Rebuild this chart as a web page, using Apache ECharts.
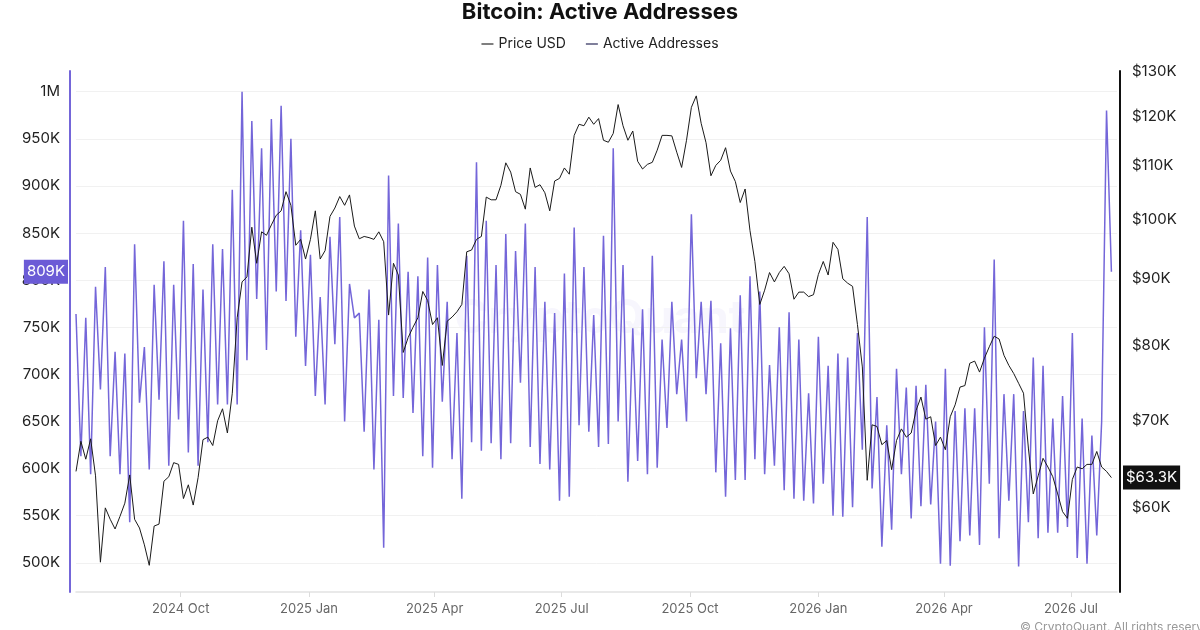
<!DOCTYPE html>
<html>
<head>
<meta charset="utf-8">
<title>Bitcoin: Active Addresses</title>
<script src="https://cdn.jsdelivr.net/npm/echarts@6/dist/echarts.min.js"></script>
<style>
  html, body { margin: 0; padding: 0; background: #fff; }
  #chart { width: 1200px; height: 630px; }
</style>
</head>
<body>
<div id="chart"></div>
<script>
// 采样：每 3.5 天一个点（周四 / 周日交替），从 2024-07-18 开始
const startDate = new Date(2024, 6, 18).getTime();
const DAY = 24 * 3600 * 1000;
const stepMs = 3.5 * DAY;

// Active Addresses（单位 K）
const addresses = [
  764, 613, 760, 594, 793, 684, 814, 613, 724, 594, 722, 543, 838, 670, 729, 599, 795, 673,
  820, 603, 795, 652, 863, 617, 817, 603, 790, 628, 838, 668, 833, 668, 896, 668, 1000, 715,
  969, 780, 940, 726, 971, 788, 985, 778, 950, 740, 853, 709, 827, 677, 782, 668, 846, 732,
  867, 650, 796, 760, 765, 639, 790, 599, 758, 516, 911, 677, 860, 675, 809, 659, 804, 613,
  824, 601, 816, 671, 777, 610, 744, 568, 826, 628, 925, 619, 863, 627, 816, 610, 849, 627,
  831, 691, 860, 623, 814, 605, 777, 599, 765, 566, 807, 570, 856, 646, 814, 639, 763, 623,
  847, 626, 940, 650, 816, 586, 749, 608, 769, 594, 826, 601, 737, 643, 777, 679, 737, 650,
  870, 696, 777, 679, 778, 596, 733, 570, 749, 588, 784, 588, 804, 610, 788, 594, 710, 603,
  750, 577, 766, 568, 737, 566, 680, 563, 740, 584, 709, 550, 722, 549, 718, 559, 744, 620,
  867, 579, 676, 517, 646, 535, 706, 594, 686, 547, 688, 560, 689, 562, 650, 499, 706,
  497, 661, 523, 664, 529, 664, 519, 750, 584, 822, 526, 679, 566, 679, 496, 661, 543,
  718, 526, 709, 532, 653, 532, 677, 538, 744, 505, 653, 499, 635, 529, 650, 980, 809
];

// Price USD（单位 K）
const priceUsd = [
  64.0, 67.5, 65.4, 67.8, 63.5, 54.5, 60.0, 58.8, 57.8, 59.1, 60.5, 63.6, 58.8, 57.9, 56.2, 54.2, 58.1, 58.3,
  62.9, 63.4, 65.0, 64.8, 61.0, 62.5, 60.3, 63.3, 67.7, 68.0, 67.0, 70.0, 71.5, 68.5, 73.5, 84.0, 89.5, 90.3,
  98.6, 92.5, 97.8, 97.2, 99.0, 100.7, 101.5, 105.0, 102.5, 95.5, 96.5, 93.2, 96.5, 101.5, 93.2, 94.6, 100.5, 102.0,
  104.1, 102.5, 104.4, 98.8, 96.6, 97.0, 96.8, 96.5, 97.8, 96.1, 84.4, 92.5, 90.6, 79.0, 81.1, 82.6, 84.0, 88.0,
  86.6, 83.0, 84.0, 77.2, 83.5, 84.1, 84.9, 86.0, 94.4, 94.7, 96.5, 97.0, 104.0, 103.5, 103.5, 106.2, 110.5, 108.7,
  105.0, 104.5, 101.8, 109.5, 105.8, 106.3, 104.8, 101.5, 107.0, 107.5, 109.5, 108.3, 116.0, 118.3, 118.0, 119.8, 118.3, 119.5,
  115.0, 114.6, 116.4, 122.5, 118.0, 115.0, 116.9, 110.8, 109.3, 110.2, 110.6, 113.0, 116.0, 116.0, 115.9, 112.6, 109.6, 115.0,
  121.9, 124.4, 118.5, 114.5, 108.0, 110.0, 111.0, 113.5, 108.9, 106.9, 103.0, 105.5, 98.0, 92.8, 86.0, 88.2, 91.0, 89.5,
  91.0, 92.0, 90.8, 86.8, 87.9, 87.9, 87.2, 87.5, 90.7, 92.8, 90.6, 96.0, 94.8, 90.0, 89.3, 88.8, 83.0, 77.0,
  63.0, 69.5, 69.3, 67.1, 67.6, 64.2, 67.6, 69.0, 68.0, 68.5, 71.3, 73.0, 70.2, 70.5, 67.0, 68.0, 66.5,
  70.5, 72.0, 74.3, 74.5, 77.5, 77.8, 76.3, 78.2, 79.8, 81.3, 80.9, 78.6, 77.2, 76.1, 74.8, 73.5, 66.7,
  61.5, 63.5, 65.5, 64.5, 63.4, 61.5, 59.6, 58.9, 63.1, 64.5, 64.3, 64.8, 64.8, 66.3, 64.5, 64.0, 63.3
];

// 坐标轴刻度
const xTickDates = ['2024-10-01', '2025-01-01', '2025-04-01', '2025-07-01',
                    '2025-10-01', '2026-01-01', '2026-04-01', '2026-07-01'];
const leftTicks = [500, 550, 600, 650, 700, 750, 800, 850, 900, 950, 1000];
const rightTicks = [60, 70, 80, 90, 100, 110, 120, 130];

const monthNames = ['Jan', 'Feb', 'Mar', 'Apr', 'May', 'Jun', 'Jul', 'Aug', 'Sep', 'Oct', 'Nov', 'Dec'];
const xTicks = xTickDates.map(s => new Date(s + 'T00:00:00').getTime());
const toPoints = arr => arr.map((v, i) => [startDate + i * stepMs, v]);

const lastAddr = addresses[addresses.length - 1];
const lastPrice = priceUsd[priceUsd.length - 1];

const FONT = 'Inter, "Noto Sans", sans-serif';
const PURPLE = '#7466d9';

let chart = echarts.init(document.getElementById('chart'));
let option = {
    animation: false,
    backgroundColor: '#fff',
    textStyle: { fontFamily: FONT },
    title: {
        text: 'Bitcoin: Active Addresses',
        left: 'center',
        top: 1,
        padding: 0,
        textStyle: { fontSize: 22, fontWeight: 'bold', color: '#111', fontFamily: FONT }
    },
    legend: {
        top: 37,
        left: 'center',
        padding: 0,
        itemGap: 20,
        itemWidth: 12,
        itemHeight: 1.5,
        icon: 'rect',
        textStyle: { fontSize: 14, color: '#222', fontFamily: FONT },
        data: [
            { name: 'Price USD', itemStyle: { color: '#555' } },
            { name: 'Active Addresses', itemStyle: { color: '#55557a' } }
        ]
    },
    grid: { left: 76, right: 83, top: 71, bottom: 38 },
    // 用数值轴承载时间戳，刻度只放季度首日
    xAxis: {
        type: 'value',
        min: startDate,
        max: startDate + 746 * DAY,
        axisLine: { show: true, lineStyle: { color: '#e2e2e2', width: 1.5 } },
        axisTick: { show: true, customValues: xTicks, length: 5, lineStyle: { color: '#dcdcdc' } },
        axisLabel: {
            customValues: xTicks,
            color: '#666',
            fontSize: 13,
            margin: 11,
            formatter: function (v) {
                let d = new Date(v);
                return d.getFullYear() + ' ' + monthNames[d.getMonth()];
            }
        },
        splitLine: { show: false }
    },
    yAxis: [{
        type: 'value',
        position: 'left',
        offset: 6,
        min: 469,
        max: 1022,
        axisLine: { show: true, lineStyle: { color: PURPLE, width: 2 } },
        axisTick: { show: false, customValues: leftTicks },
        axisLabel: {
            customValues: leftTicks,
            color: '#222',
            fontSize: 15,
            margin: 10,
            formatter: v => v >= 1000 ? (v / 1000) + 'M' : v + 'K'
        },
        splitLine: { show: true, lineStyle: { color: '#f1f1f1' } }
    }, {
        type: 'log',
        position: 'right',
        offset: 3,
        min: 51.7,
        max: 130,
        axisLine: { show: true, lineStyle: { color: '#111', width: 2 } },
        axisTick: { show: false, customValues: rightTicks },
        axisLabel: {
            customValues: rightTicks,
            color: '#222',
            fontSize: 15,
            margin: 12,
            formatter: v => '$' + Math.round(v) + 'K'
        },
        splitLine: { show: false }
    }],
    series: [{
        name: 'Active Addresses',
        type: 'line',
        yAxisIndex: 0,
        data: toPoints(addresses),
        showSymbol: false,
        symbol: 'none',
        z: 2,
        lineStyle: { color: PURPLE, width: 1.5 },
        itemStyle: { color: PURPLE },
        // 最新值标签（左轴）
        markLine: {
            silent: true,
            symbol: 'none',
            animation: false,
            lineStyle: { color: 'rgba(0,0,0,0)', width: 0, type: 'solid' },
            emphasis: { disabled: true },
            label: {
                show: true,
                position: 'start',
                distance: 8,
                formatter: lastAddr + 'K',
                color: '#fff',
                backgroundColor: '#6b5bd6',
                padding: [5, 3, 4, 3],
                fontSize: 15,
                fontFamily: FONT
            },
            data: [{ yAxis: lastAddr }]
        }
    }, {
        name: 'Price USD',
        type: 'line',
        yAxisIndex: 1,
        data: toPoints(priceUsd),
        showSymbol: false,
        symbol: 'none',
        z: 3,
        lineStyle: { color: '#1a1a1a', width: 1 },
        itemStyle: { color: '#1a1a1a' },
        // 最新值标签（右轴）
        markLine: {
            silent: true,
            symbol: 'none',
            animation: false,
            lineStyle: { color: 'rgba(0,0,0,0)', width: 0, type: 'solid' },
            emphasis: { disabled: true },
            label: {
                show: true,
                position: 'end',
                distance: 6,
                formatter: '$' + lastPrice + 'K',
                color: '#fff',
                backgroundColor: '#111',
                padding: [5, 3, 4, 3],
                fontSize: 15,
                fontFamily: FONT
            },
            data: [{ yAxis: lastPrice }]
        }
    }],
    graphic: [{
        type: 'text',
        left: 'center',
        top: 296,
        silent: true,
        style: { text: 'CryptoQuant', fontSize: 46, fontWeight: 'bold', fontFamily: FONT, fill: 'rgba(116,102,217,0.06)' }
    }, {
        type: 'text',
        left: 1020,
        top: 621,
        silent: true,
        style: { text: '© CryptoQuant. All rights reserved', fontSize: 12, fontFamily: FONT, fill: '#999' }
    }]
};
chart.setOption(option);

window.onresize = function () {
    chart.resize();
};
</script>
</body>
</html>
